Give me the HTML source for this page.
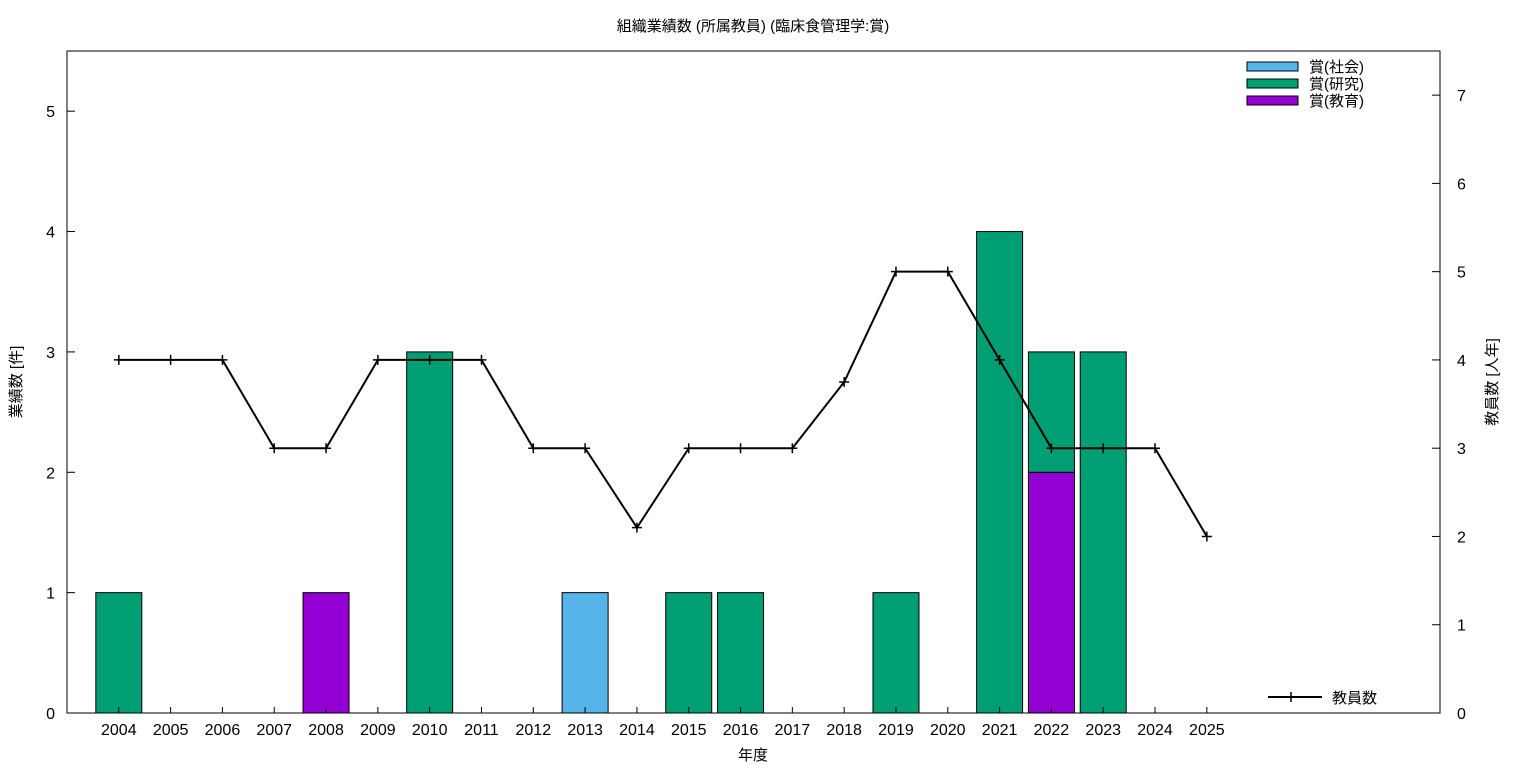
<!DOCTYPE html>
<html><head><meta charset="utf-8">
<style>
body{margin:0;background:#fff;}
svg{display:block;font-family:"Liberation Sans","Noto Sans CJK JP",sans-serif;}
</style></head>
<body>
<svg id="chart" width="1536" height="768" viewBox="0 0 1536 768" xmlns="http://www.w3.org/2000/svg">
<rect width="1536" height="768" fill="#fff"/>
<text x="753" y="31" font-size="15" text-anchor="middle">組織業績数 (所属教員) (臨床食管理学:賞)</text>
<g id="bars"></g>
<g id="line"></g>
<rect x="67" y="51" width="1373" height="662" fill="none" stroke="#000" stroke-width="1"/>
<g id="axes"></g>
<text x="753" y="760" font-size="15" text-anchor="middle">年度</text>
<text transform="translate(21,382) rotate(-90)" font-size="15" text-anchor="middle">業績数 [件]</text>
<text transform="translate(1497,382) rotate(-90)" font-size="15" text-anchor="middle">教員数 [人年]</text>
<g>
<rect x="1247" y="62" width="51" height="9" fill="#56b4e9" stroke="#000"/>
<text x="1309" y="72" font-size="15">賞(社会)</text>
<rect x="1247" y="79" width="51" height="9" fill="#009e73" stroke="#000"/>
<text x="1309" y="89" font-size="15">賞(研究)</text>
<rect x="1247" y="96" width="51" height="9" fill="#9400d3" stroke="#000"/>
<text x="1309" y="106" font-size="15">賞(教育)</text>
<line x1="1268" y1="697" x2="1322" y2="697" stroke="#000" stroke-width="2"/>
<path d="M1291 692v10" stroke="#000" stroke-width="1.5"/>
<text x="1332" y="703" font-size="15">教員数</text>
</g>
</svg>
<script>
const years=["2004","2005","2006","2007","2008","2009","2010","2011","2012","2013","2014","2015","2016","2017","2018","2019","2020","2021","2022","2023","2024","2025"];
const education=[0,0,0,0,1,0,0,0,0,0,0,0,0,0,0,0,0,0,2,0,0,0];
const social=[0,0,0,0,0,0,0,0,0,1,0,0,0,0,0,0,0,0,0,0,0,0];
const research=[1,0,0,0,0,0,3,0,0,0,0,1,1,0,0,1,0,4,1,3,0,0];
const faculty=[4,4,4,3,3,4,4,4,3,3,2.1,3,3,3,3.75,5,5,4,3,3,3,2];
const yTicks=[0,1,2,3,4,5];
const y2Ticks=[0,1,2,3,4,5,6,7];
const L=67,R=1440,T=51,B=713;
const xs=i=>L+(i+1)*(R-L)/26.5;
const ys=v=>B-v*(B-T)/5.5;
const y2s=v=>B-v*(B-T)/7.5;
const NS="http://www.w3.org/2000/svg";
function mk(tag,attrs,parent){const e=document.createElementNS(NS,tag);for(const k in attrs)e.setAttribute(k,attrs[k]);parent.appendChild(e);return e;}
const bars=document.getElementById('bars'),line=document.getElementById('line'),axes=document.getElementById('axes');
const bw=46;
const series=[[education,"#9400d3","education"],[social,"#56b4e9","social"],[research,"#009e73","research"]];
years.forEach((y,i)=>{
  let base=0;
  series.forEach(([arr,col,nm])=>{
    const v=arr[i]; if(!v) return;
    const r=mk('rect',{x:xs(i)-bw/2,y:ys(base+v),width:bw,height:ys(base)-ys(base+v),fill:col,stroke:'#000','stroke-width':1},bars);
    
    
    base+=v;
  });
  const t=mk('text',{x:xs(i),y:735,'font-size':16,'text-anchor':'middle'},axes);
  t.textContent=y;
  
  
  mk('line',{x1:xs(i),y1:B,x2:xs(i),y2:B-6,stroke:'#000'},axes);
});
const pts=faculty.map((v,i)=>xs(i)+','+y2s(v)).join(' ');
const pl=mk('polyline',{points:pts,fill:'none',stroke:'#000','stroke-width':2},line);


faculty.forEach((v,i)=>{
  const p=mk('path',{d:`M${xs(i)-5} ${y2s(v)}h10M${xs(i)} ${y2s(v)-5}v10`,stroke:'#000','stroke-width':1.5},line);
  
  
});
yTicks.forEach(v=>{
  mk('line',{x1:L,y1:ys(v),x2:L+8,y2:ys(v),stroke:'#000'},axes);
  const t=mk('text',{x:55,y:ys(v)+6,'font-size':16,'text-anchor':'end'},axes);
  t.textContent=v;
  
  
});
y2Ticks.forEach(v=>{
  mk('line',{x1:R,y1:y2s(v),x2:R-8,y2:y2s(v),stroke:'#000'},axes);
  const t=mk('text',{x:1457,y:y2s(v)+6,'font-size':16},axes);
  t.textContent=v;
  
  
});
</script>
</body></html>
